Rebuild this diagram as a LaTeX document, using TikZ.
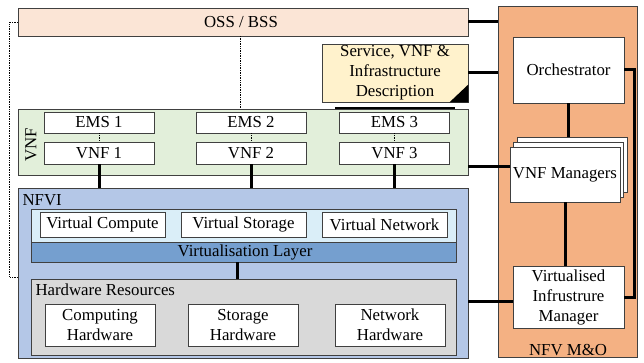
\documentclass[tikz,border=0pt]{standalone}
\usepackage{fontspec}
\setmainfont{Liberation Serif}
\newfontfamily\tnr{Liberation Serif}
\usetikzlibrary{calc}
\definecolor{ossc}{HTML}{FBE5D6}
\definecolor{svcc}{HTML}{FFF2CC}
\definecolor{vnfc}{HTML}{E2EFDA}
\definecolor{nfvic}{HTML}{B4C7E7}
\definecolor{vlightc}{HTML}{DAEEF8}
\definecolor{vlayc}{HTML}{759FCF}
\definecolor{hwc}{HTML}{D9D9D9}
\definecolor{moc}{HTML}{F4B183}
\definecolor{edgec}{HTML}{404040}
\tikzset{
  box/.style={draw=edgec, line width=0.8pt, inner sep=0pt, align=center, text=black},
  wbox/.style={box, fill=white},
  thickc/.style={line width=3pt, black},
  dotc/.style={densely dotted, line width=0.7pt, black},
}
\begin{document}
\begin{tikzpicture}[x=1pt,y=-1pt, font=\tnr\fontsize{16.8}{20}\selectfont]
\useasboundingbox (0,0) rectangle (644,363);

% NFV M&O
\node[box, fill=moc, minimum width=139, minimum height=351] (mo) at (567.5,181.5) {};
\node (molabel) at (568,350) {NFV M\&O};

% OSS / BSS
\node[box, fill=ossc, minimum width=450, minimum height=28] (oss) at (243,22) {};
\node (osslabel) at (241,22) {OSS / BSS};

% Service description
\node[box, fill=svcc, minimum width=146, minimum height=58] (svc) at (395,73) {Service, VNF \&\\Infrastructure\\Description};
\fill[black] (svc.south east) -- ++(-19,0) -- ++(19,-18) -- cycle;

% VNF region
\node[box, fill=vnfc, minimum width=450, minimum height=66] (vnfreg) at (243,142) {};
\node[rotate=90] (vnflabel) at (31,145) {VNF};
\coordinate (bl1) at (335,108);
\coordinate (bl2) at (455,108);
\draw[line width=2pt] (bl1) -- (bl2);

\foreach \i/\x in {1/99,2/251,3/394.5}{
  \node[wbox, minimum width=110, minimum height=21] (ems\i) at (\x,122.5) {EMS \i};
  \node[wbox, minimum width=110, minimum height=22] (vnf\i) at (\x,153) {VNF \i};
  \draw[dotc] (ems\i.south) -- (vnf\i.north);
}

% NFVI
\node[box, fill=nfvic, minimum width=450, minimum height=170] (nfvi) at (243,273) {};
\node[anchor=west] (nfvilabel) at (19,200) {NFVI};
\node[box, fill=vlightc, minimum width=425, minimum height=33] (vlight) at (243.5,225.5) {};
\node[wbox, minimum width=125, minimum height=25] (vc) at (102.5,224.5) {Virtual Compute};
\node[wbox, minimum width=125, minimum height=25] (vs) at (243.5,224.5) {Virtual Storage};
\node[wbox, minimum width=125, minimum height=25] (vn) at (384.5,224.5) {Virtual Network};
\node[box, fill=vlayc, minimum width=425, minimum height=20] (vlayer) at (243.5,252) {};
\node (vlayerlabel) at (245,252) {Virtualisation Layer};
\node[box, fill=hwc, minimum width=425, minimum height=76] (hw) at (243.5,317) {};
\node[anchor=west] (hwlabel) at (32,290) {Hardware Resources};
\node[wbox, minimum width=110, minimum height=42] (ch) at (100,325) {Computing\\Hardware};
\node[wbox, minimum width=110, minimum height=42] (sh) at (243,325) {Storage\\Hardware};
\node[wbox, minimum width=110, minimum height=42] (nh) at (390,325) {Network\\Hardware};

% M&O inner boxes
\node[wbox, minimum width=111, minimum height=66] (orch) at (568.5,70) {Orchestrator};
\draw[thickc] (orch.south) -- (568.5,140);
\node[wbox, minimum width=110, minimum height=55] (vnfmb2) at (572,164.5) {};
\node[wbox, minimum width=110, minimum height=55] (vnfmb1) at (568.5,169.5) {};
\node[wbox, minimum width=110, minimum height=55] (vnfm) at (565,174.5) {VNF Managers};
\node[wbox, minimum width=111, minimum height=62] (vim) at (568.5,297) {Virtualised\\Infrustrure\\Manager};

% connectors
\draw[thickc] (oss.east) -- (oss.east -| mo.west);
\draw[thickc] (svc.east) -- (svc.east -| mo.west);
\coordinate (vnfout) at ($(vnfreg.south east)+(0,-9)$);
\draw[thickc] (vnfout) -- (vnfout -| vnfm.west);
\coordinate (nfviout) at ($(vim.west -| nfvi.east)+(0,4)$);
\draw[thickc] (nfviout) -- (nfviout -| vim.west);
\draw[thickc] (vnfm.south) -- (vnfm.south |- vim.north);
\draw[thickc] (orch.east) -- ++(10,0) |- (vim.east);
\foreach \i in {1,2,3}{
  \draw[thickc] (vnf\i.south) -- (vnf\i.south |- nfvi.north);
}
\coordinate (vlx) at (237,262);
\draw[thickc] (vlx) -- (vlx |- hw.north);

% dotted management lines
\coordinate (ossdot) at (240,36);
\draw[dotc] (ossdot) -- (ossdot |- vnfreg.north);
\coordinate (nfvidot) at (18,277);
\draw[dotc] (oss.west) -- ++(-8,0) |- (nfvidot);
\end{tikzpicture}
\end{document}
